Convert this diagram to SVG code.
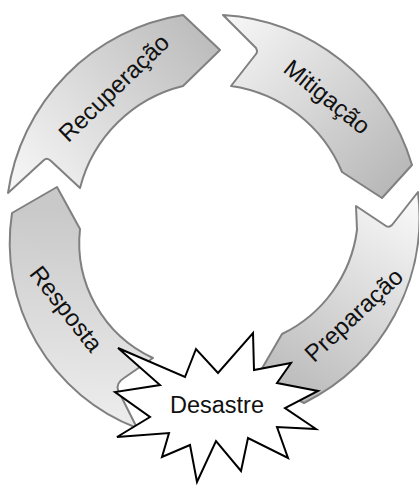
<svg xmlns="http://www.w3.org/2000/svg" width="419" height="485" viewBox="0 0 419 485">
<style>
.arr{stroke:#808080;stroke-width:2;stroke-linejoin:round}
.lbl{font-family:"Liberation Sans",Arial,sans-serif;font-size:24px;fill:#111;text-anchor:middle}
.star{fill:#fff;stroke:#000;stroke-width:2;stroke-linejoin:miter}
</style>
<defs>
<linearGradient id="gRec" gradientUnits="userSpaceOnUse" x1="20" y1="190" x2="200" y2="30"><stop offset="0" stop-color="#f6f6f6"/><stop offset="1" stop-color="#bdbdbd"/></linearGradient>
<linearGradient id="gMit" gradientUnits="userSpaceOnUse" x1="230" y1="20" x2="400" y2="190"><stop offset="0" stop-color="#f6f6f6"/><stop offset="1" stop-color="#b6b6b6"/></linearGradient>
<linearGradient id="gPre" gradientUnits="userSpaceOnUse" x1="400" y1="195" x2="280" y2="400"><stop offset="0" stop-color="#f8f8f8"/><stop offset="1" stop-color="#b8b8b8"/></linearGradient>
<linearGradient id="gRes" gradientUnits="userSpaceOnUse" x1="70" y1="210" x2="60" y2="410"><stop offset="0" stop-color="#c9c9c9"/><stop offset="1" stop-color="#ebebeb"/></linearGradient>
</defs>
<g id="connectors">
<g id="recuperacao">
<path class="arr" fill="url(#gRec)" d="M8,193 L44,160 Q47,157 51,161 L80,188 A141,141 0 0,1 183,86 L220,50 L183,15 A210,210 0 0,0 8,193 Z"/>
<text class="lbl" transform="translate(114,88) rotate(-44)" y="8">Recuperação</text>
</g>
<g id="mitigacao">
<path class="arr" fill="url(#gMit)" d="M223,15 L256,48 Q258,52 256,54 L231,86 A142,142 0 0,1 342,172 L382,198 L412,165 A211,211 0 0,0 223,15 Z"/>
<text class="lbl" transform="translate(327,97) rotate(39)" y="8">Mitigação</text>
</g>
<g id="preparacao">
<path class="arr" fill="url(#gPre)" d="M418,192 L392,225 Q389,228 386,226 L356,206 L357,230 A135,135 0 0,1 282,334 L257,377 L304,403 A208,208 0 0,0 418,192 Z"/>
<text class="lbl" transform="translate(354,315) rotate(-43)" y="8">Preparação</text>
</g>
<g id="resposta">
<path class="arr" fill="url(#gRes)" d="M12,213 L57,187 L80,229 A127,127 0 0,0 153,358 L124,378 Q116,383 118,390 L137,428 A198,198 0 0,1 12,213 Z"/>
<text class="lbl" transform="translate(66,309) rotate(52)" y="8">Resposta</text>
</g>
</g>
<g id="desastre">
<polygon class="star" points="118,348 185,377 196,349 218,373 253,333 254,370 291,363 277,383 318,391 285,408 316,429 277,427 288,458 248,438 241,471 216,441 197,482 190,445 162,457 169,433 117,437 150,417 115,392 160,385"/>
<text class="lbl" x="217" y="413" style="font-size:23.5px">Desastre</text>
</g>
</svg>
